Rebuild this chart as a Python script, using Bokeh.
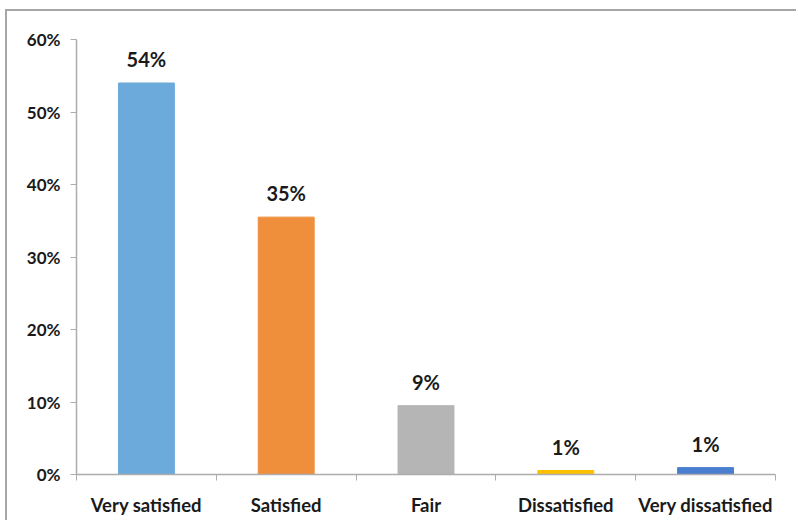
from bokeh.plotting import figure
from bokeh.models import ColumnDataSource, FixedTicker, NumeralTickFormatter, Range1d
from bokeh.embed import file_html
from bokeh.resources import INLINE
from bokeh.core.properties import value

categories = ["Very satisfied", "Satisfied", "Fair", "Dissatisfied", "Very dissatisfied"]
shares = [0.540, 0.355, 0.095, 0.0055, 0.0095]
value_labels = ["54%", "35%", "9%", "1%", "1%"]
colors = ["#6BAADB", "#EF8F3C", "#B5B5B5", "#FFC000", "#4A7ECF"]
y_ticks = [0.0, 0.1, 0.2, 0.3, 0.4, 0.5, 0.6]

n = len(categories)
centers = [i + 0.5 for i in range(n)]
bounds = [float(i) for i in range(n + 1)]

src = ColumnDataSource(dict(x=centers, top=shares, label=value_labels, color=colors))

FONT = "Lato"
TEXT = "#1a1a1a"
AXIS = "#adadad"

p = figure(width=791, height=511, output_backend="svg", toolbar_location=None,
           x_range=Range1d(0, n), y_range=Range1d(0, 0.6),
           min_border_left=69, min_border_right=23, min_border_top=28, min_border_bottom=48)
p.margin = (9, 0, 0, 5)
p.styles = {"border-top": "2px solid #a6a6a6", "border-left": "2px solid #a6a6a6"}
p.outline_line_color = None
p.grid.visible = False

p.vbar(x="x", top="top", width=0.4, color="color", source=src)
p.text(x="x", y="top", text="label", source=src, text_align="center", text_baseline="bottom",
       y_offset=-12, text_font=value(FONT), text_font_style="bold", text_font_size="20px",
       text_color=TEXT)

xa = p.xaxis[0]
xa.ticker = FixedTicker(ticks=centers, minor_ticks=bounds)
xa.major_label_overrides = {c: lab for c, lab in zip(centers, categories)}
xa.major_tick_line_color = None
xa.minor_tick_line_color = AXIS
xa.minor_tick_in = 0
xa.minor_tick_out = 6
xa.axis_line_color = AXIS
xa.axis_line_width = 1.5
xa.major_label_standoff = 13
xa.major_label_text_font = FONT
xa.major_label_text_font_style = "bold"
xa.major_label_text_font_size = "18.5px"
xa.major_label_text_color = TEXT

ya = p.yaxis[0]
ya.ticker = FixedTicker(ticks=y_ticks)
ya.formatter = NumeralTickFormatter(format="0%")
ya.minor_tick_line_color = None
ya.major_tick_line_color = AXIS
ya.major_tick_in = 0
ya.major_tick_out = 6
ya.axis_line_color = AXIS
ya.axis_line_width = 1.5
ya.major_label_standoff = 10
ya.major_label_text_font = FONT
ya.major_label_text_font_style = "bold"
ya.major_label_text_font_size = "17px"
ya.major_label_text_color = TEXT

open("out.html", "w").write(file_html(p, INLINE))
